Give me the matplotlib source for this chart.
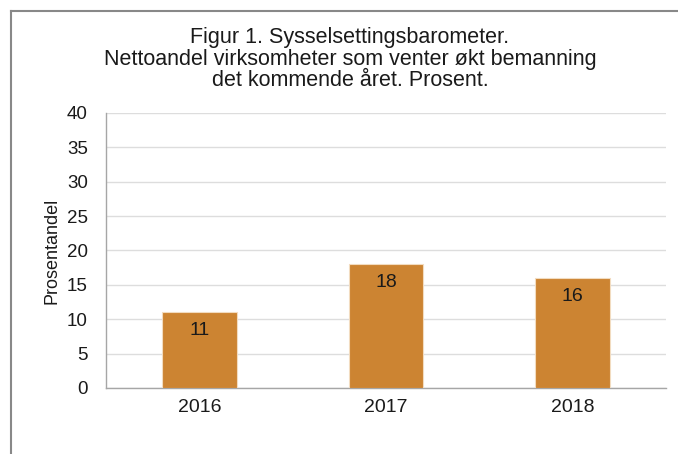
import matplotlib.pyplot as plt
from matplotlib.lines import Line2D

plt.rcParams["font.family"] = ["Liberation Sans", "DejaVu Sans"]

years = ["2016", "2017", "2018"]
values = [11, 18, 16]

TITLE = ("Figur 1. Sysselsettingsbarometer.\n"
         "Nettoandel virksomheter som venter økt bemanning\n"
         "det kommende året. Prosent.")

fig = plt.figure(figsize=(6.78, 4.54), dpi=100)
ax = fig.add_axes([106 / 678, 1 - 388 / 454, 560 / 678, 275 / 454])

x = range(len(years))
bars = ax.bar(x, values, width=0.4, color="#CC8432", edgecolor="#F2DCC0",
              linewidth=0.8, zorder=3)

for bar, v in zip(bars, values):
    ax.annotate(str(v), (bar.get_x() + bar.get_width() / 2, v),
                xytext=(0, -13), textcoords="offset points",
                ha="center", va="center", fontsize=14, color="#1a1a1a",
                zorder=4)

ax.set_xlim(-0.5, 2.5)
ax.set_ylim(0, 40)
ax.set_yticks(range(0, 41, 5))
ax.set_xticks(list(x))
ax.set_xticklabels(years)
ax.tick_params(axis="both", length=0, colors="#1a1a1a")
ax.tick_params(axis="y", pad=13, labelsize=13.5)
ax.tick_params(axis="x", pad=8, labelsize=14)
ax.yaxis.grid(True, color="#DDDDDD", linewidth=1, zorder=0)
ax.set_axisbelow(True)
for s in ["top", "right"]:
    ax.spines[s].set_visible(False)
for s in ["left", "bottom"]:
    ax.spines[s].set_color("#A6A6A6")
    ax.spines[s].set_linewidth(1)
ax.set_ylabel("Prosentandel", fontsize=13, labelpad=5, color="#1a1a1a")

fig.text(350 / 678, 1 - 59 / 454, TITLE, ha="center", va="center",
         fontsize=15.5, linespacing=1.0, color="#1a1a1a")

# outer frame (top and left edges visible)
bx = 11 / 678
by = 1 - 11 / 454
fig.add_artist(Line2D([bx, 1], [by, by], transform=fig.transFigure,
                      color="#888888", linewidth=1.5))
fig.add_artist(Line2D([bx, bx], [0, by], transform=fig.transFigure,
                      color="#888888", linewidth=1.5))

fig.savefig("out.png", dpi=100)
